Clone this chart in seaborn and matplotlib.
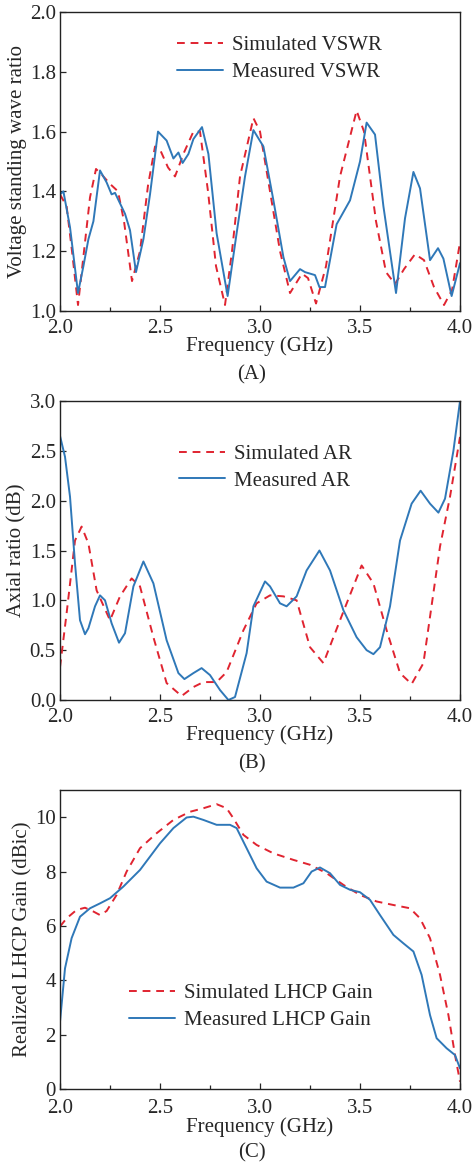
"""
Recreate the three-panel antenna measurement figure:
VSWR, axial ratio and realized LHCP gain vs frequency.
"""

import pandas as pd
import matplotlib.pyplot as plt
import seaborn as sns

sns.set_style("ticks")
plt.rcParams['font.family'] = ['Liberation Serif', 'DejaVu Serif']

RED = '#e02430'
BLUE = '#2f78b8'

#
#  Values
#

vswr_sim_f = [2.0, 2.033, 2.06, 2.09, 2.12, 2.15, 2.18, 2.21, 2.25, 2.29, 2.32, 2.36,
              2.40, 2.44, 2.475, 2.50, 2.54, 2.575, 2.62, 2.667, 2.70, 2.74, 2.78, 2.825,
              2.86, 2.90, 2.967, 3.00, 3.05, 3.10, 3.15, 3.21, 3.24, 3.28, 3.33, 3.40,
              3.483, 3.52, 3.58, 3.63, 3.675, 3.72, 3.775, 3.82, 3.87, 3.92, 3.96, 4.0]
vswr_sim = [1.39, 1.35, 1.20, 1.02, 1.20, 1.38, 1.475, 1.455, 1.425, 1.40, 1.30, 1.10,
            1.20, 1.42, 1.55, 1.54, 1.48, 1.45, 1.53, 1.60, 1.60, 1.40, 1.15, 1.02,
            1.20, 1.45, 1.645, 1.60, 1.40, 1.20, 1.06, 1.125, 1.11, 1.025, 1.15, 1.45,
            1.67, 1.60, 1.30, 1.13, 1.09, 1.14, 1.19, 1.17, 1.08, 1.02, 1.07, 1.23]

vswr_mea_f = [2.0, 2.017, 2.05, 2.09, 2.117, 2.142, 2.167, 2.20, 2.233, 2.258, 2.275,
              2.30, 2.325, 2.35, 2.38, 2.417, 2.45, 2.49, 2.533, 2.567, 2.592, 2.613,
              2.642, 2.667, 2.683, 2.71, 2.742, 2.783, 2.838, 2.883, 2.925, 2.967,
              3.017, 3.067, 3.117, 3.15, 3.20, 3.225, 3.275, 3.297, 3.325, 3.383,
              3.45, 3.50, 3.533, 3.575, 3.617, 3.68, 3.725, 3.767, 3.80, 3.85, 3.89,
              3.917, 3.958, 4.0]
vswr_mea = [1.39, 1.40, 1.28, 1.06, 1.15, 1.24, 1.30, 1.47, 1.43, 1.39, 1.395,
            1.36, 1.325, 1.27, 1.13, 1.24, 1.39, 1.60, 1.57, 1.51, 1.53, 1.495,
            1.525, 1.575, 1.59, 1.615, 1.525, 1.26, 1.05, 1.26, 1.45, 1.605,
            1.55, 1.37, 1.18, 1.10, 1.14, 1.13, 1.12, 1.08, 1.08, 1.29,
            1.37, 1.50, 1.63, 1.59, 1.35, 1.06, 1.31, 1.465, 1.41, 1.17, 1.21,
            1.175, 1.05, 1.16]

ar_sim_f = [2.0, 2.033, 2.075, 2.108, 2.142, 2.183, 2.25, 2.30, 2.358, 2.40, 2.467,
            2.533, 2.608, 2.667, 2.717, 2.783, 2.833, 2.917, 2.983, 3.05, 3.117,
            3.183, 3.25, 3.317, 3.40, 3.508, 3.567, 3.633, 3.70, 3.758, 3.817,
            3.90, 3.95, 4.0]
ar_sim = [0.33, 0.87, 1.60, 1.74, 1.57, 1.10, 0.80, 1.04, 1.22, 1.14, 0.63,
          0.17, 0.04, 0.13, 0.18, 0.18, 0.28, 0.70, 0.97, 1.05, 1.04,
          1.00, 0.53, 0.37, 0.80, 1.35, 1.17, 0.70, 0.27, 0.16, 0.37,
          1.54, 2.04, 2.64]

ar_mea_f = [2.0, 2.025, 2.05, 2.075, 2.10, 2.125, 2.142, 2.175, 2.20, 2.225, 2.258,
            2.295, 2.325, 2.367, 2.417, 2.467, 2.533, 2.592, 2.622, 2.667, 2.708,
            2.75, 2.80, 2.842, 2.875, 2.933, 2.967, 3.025, 3.05, 3.10, 3.133,
            3.183, 3.233, 3.297, 3.35, 3.417, 3.483, 3.533, 3.567, 3.60, 3.65,
            3.70, 3.758, 3.803, 3.85, 3.892, 3.925, 3.967, 4.0]
ar_mea = [2.65, 2.44, 2.04, 1.37, 0.80, 0.66, 0.72, 0.94, 1.05, 1.00, 0.77,
          0.575, 0.67, 1.14, 1.39, 1.17, 0.60, 0.27, 0.21, 0.27, 0.32,
          0.25, 0.10, 0.00, 0.03, 0.47, 0.94, 1.19, 1.14, 0.97, 0.94,
          1.04, 1.30, 1.50, 1.30, 0.90, 0.63, 0.50, 0.46, 0.53, 0.94,
          1.60, 1.97, 2.10, 1.97, 1.88, 2.02, 2.50, 3.0]

gain_sim_f = [2.0, 2.033, 2.083, 2.125, 2.167, 2.20, 2.233, 2.283, 2.333, 2.40, 2.483,
              2.567, 2.65, 2.717, 2.783, 2.833, 2.867, 2.917, 2.983, 3.067, 3.167,
              3.25, 3.333, 3.417, 3.50, 3.583, 3.667, 3.75, 3.80, 3.85, 3.90,
              3.942, 3.975, 4.0]
gain_sim = [5.98, 6.28, 6.59, 6.67, 6.53, 6.40, 6.55, 7.14, 8.00, 8.86, 9.41,
            9.90, 10.20, 10.33, 10.48, 10.33, 9.96, 9.35, 8.98, 8.67, 8.43,
            8.25, 7.94, 7.51, 7.14, 6.90, 6.77, 6.65, 6.28, 5.55, 4.20,
            2.72, 1.25, 0.27]

gain_mea_f = [2.0, 2.025, 2.058, 2.10, 2.15, 2.20, 2.25, 2.317, 2.40, 2.50, 2.567,
              2.633, 2.667, 2.717, 2.783, 2.85, 2.883, 2.933, 2.983, 3.033, 3.10,
              3.167, 3.217, 3.258, 3.30, 3.35, 3.40, 3.45, 3.50, 3.55, 3.60,
              3.667, 3.717, 3.767, 3.808, 3.85, 3.883, 3.933, 3.975, 4.0]
gain_mea = [2.48, 4.44, 5.55, 6.34, 6.65, 6.83, 7.02, 7.45, 8.06, 9.04, 9.60,
            9.99, 10.02, 9.90, 9.72, 9.72, 9.60, 8.86, 8.12, 7.63, 7.41,
            7.41, 7.57, 8.00, 8.15, 7.94, 7.51, 7.33, 7.24, 6.96, 6.40,
            5.67, 5.36, 5.06, 4.20, 2.72, 1.87, 1.50, 1.25, 0.76]

panels = [
    dict(sim=(vswr_sim_f, vswr_sim), mea=(vswr_mea_f, vswr_mea),
         labels=('Simulated VSWR', 'Measured VSWR'),
         ylabel='Voltage standing wave ratio', ylim=(1.0, 2.0),
         yticks=[1.0, 1.2, 1.4, 1.6, 1.8, 2.0], yfmt='{:.1f}',
         tag='(A)', legend_at=(0.2725, 0.948), xpad=5.5),
    dict(sim=(ar_sim_f, ar_sim), mea=(ar_mea_f, ar_mea),
         labels=('Simulated AR', 'Measured AR'),
         ylabel='Axial ratio (dB)', ylim=(0.0, 3.0),
         yticks=[0.0, 0.5, 1.0, 1.5, 2.0, 2.5, 3.0], yfmt='{:.1f}',
         tag='(B)', legend_at=(0.2775, 0.883), xpad=5.5),
    dict(sim=(gain_sim_f, gain_sim), mea=(gain_mea_f, gain_mea),
         labels=('Simulated LHCP Gain', 'Measured LHCP Gain'),
         ylabel='Realized LHCP Gain (dBic)', ylim=(0, 11),
         yticks=[0, 2, 4, 6, 8, 10], yfmt='{:.0f}',
         tag='(C)', legend_at=(0.1525, 0.38), xpad=7.5),
]

fig = plt.figure(figsize=(4.74, 11.63), dpi=100)
bottoms = [0.7326, 0.3981, 0.0636]

for p, b in zip(panels, bottoms):
    ax = fig.add_axes([0.1266, b, 0.8439, 0.2571])
    sns.lineplot(x=p['sim'][0], y=p['sim'][1], ax=ax, color=RED,
                 linestyle=(0, (4, 3)), linewidth=1.4, label=p['labels'][0],
                 sort=False, estimator=None)
    sns.lineplot(x=p['mea'][0], y=p['mea'][1], ax=ax, color=BLUE,
                 linewidth=1.4, label=p['labels'][1],
                 sort=False, estimator=None)

    ax.set_xlim(2.0, 4.0)
    ax.set_ylim(*p['ylim'])
    ax.set_xticks([2.0, 2.5, 3.0, 3.5, 4.0])
    ax.set_xticklabels(['2.0', '2.5', '3.0', '3.5', '4.0'])
    ax.set_xticks([2.25, 2.75, 3.25, 3.75], minor=True)
    ax.set_yticks(p['yticks'])
    ax.set_yticklabels([p['yfmt'].format(v) for v in p['yticks']])
    ax.tick_params(axis='both', which='both', direction='in', labelsize=15,
                   width=0.9)
    ax.tick_params(axis='y', which='major', length=4, pad=3)
    ax.tick_params(axis='x', which='major', length=4, pad=p['xpad'])
    ax.tick_params(axis='x', which='minor', length=3)
    for s in ax.spines.values():
        s.set_linewidth(1.0)
        s.set_color('#222222')

    ax.set_xlabel('Frequency (GHz)', fontsize=15, labelpad=-1)
    ax.set_ylabel(p['ylabel'], fontsize=15, labelpad=2)
    ax.text(0.48, -0.215, p['tag'], transform=ax.transAxes, ha='center',
            va='center', fontsize=15)

    ax.legend(loc='upper left', bbox_to_anchor=p['legend_at'], frameon=False,
              fontsize=15, handlelength=2.2, handletextpad=0.4,
              labelspacing=0.35, borderaxespad=0)

fig.savefig('out.png', dpi=100)
